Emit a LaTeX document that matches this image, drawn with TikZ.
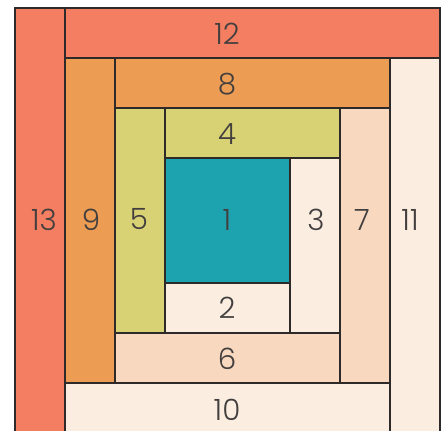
\documentclass[tikz,border=0pt]{standalone}
\usepackage{fontspec}
\newfontfamily\patchfont{Poppins}[UprightFont=* Light]
\definecolor{coral}{HTML}{F47E61}
\definecolor{apricot}{HTML}{EC9D53}
\definecolor{olive}{HTML}{D9D274}
\definecolor{teal}{HTML}{1DA3AF}
\definecolor{cream}{HTML}{FBEEE1}
\definecolor{peach}{HTML}{F8D9BF}
\definecolor{seam}{HTML}{2E2A2A}
\tikzset{
  patch/.style={draw=seam, line width=0.8pt},
  num/.style={font=\patchfont\fontsize{22}{22}\selectfont, text=seam!90}
}
\begin{document}
\begin{tikzpicture}[x=0.75pt, y=-0.75pt]
  \useasboundingbox (0,0) rectangle (445,430);
  \clip (0,0) rectangle (445,430);
  % outer round
  \draw[patch, fill=coral] (15,8) rectangle (65,433);
  \draw[patch, fill=coral] (65,8) rectangle (440,58);
  \draw[patch, fill=cream] (390,58) rectangle (440,433);
  \draw[patch, fill=cream] (65,383) rectangle (390,433);
  % middle round
  \draw[patch, fill=apricot] (65,58) rectangle (115,383);
  \draw[patch, fill=apricot] (115,58) rectangle (390,108);
  \draw[patch, fill=peach] (340,108) rectangle (390,383);
  \draw[patch, fill=peach] (115,333) rectangle (340,383);
  % inner round
  \draw[patch, fill=olive] (115,108) rectangle (165,333);
  \draw[patch, fill=olive] (165,108) rectangle (340,158);
  \draw[patch, fill=cream] (290,158) rectangle (340,333);
  \draw[patch, fill=cream] (165,283) rectangle (290,333);
  % centre
  \draw[patch, fill=teal] (165,158) rectangle (290,283);

  % labels
  \node[num] (n1) at (227,220) {1};
  \node[num] (n2) at (227,308) {2};
  \node[num] (n3) at (316,220) {3};
  \node[num] (n4) at (227,134) {4};
  \node[num] (n5) at (139,219) {5};
  \node[num] (n6) at (227,359) {6};
  \node[num] (n7) at (362,220) {7};
  \node[num] (n8) at (227,84) {8};
  \node[num] (n9) at (91,220) {9};
  \node[num] (n10) at (227,410) {10};
  \node[num] (n11) at (410,220) {11};
  \node[num] (n12) at (227,34) {12};
  \node[num] (n13) at (44,220) {13};
\end{tikzpicture}
\end{document}
